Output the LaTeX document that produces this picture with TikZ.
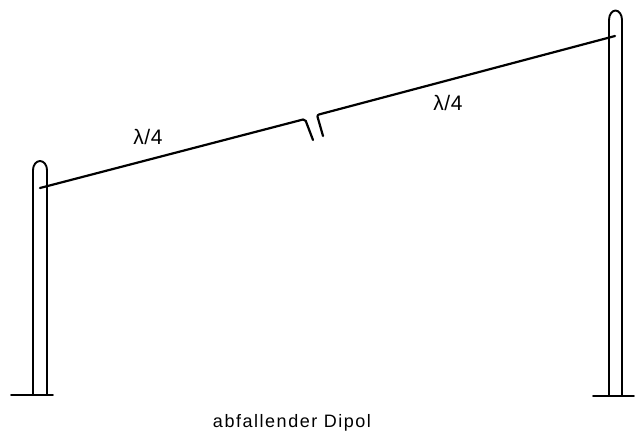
\documentclass[tikz,border=0pt]{standalone}
\usepackage{fontspec}
\setmainfont{Liberation Sans}
\tikzset{
  mast/.style={line width=1.9pt,line cap=round},
  wire/.style={line width=2.2pt,line cap=round,line join=round,rounded corners=2pt},
  lbl/.style={inner sep=0pt,anchor=base,text=black},
  lamlbl/.style={lbl,font=\fontsize{21}{24}\selectfont\addfontfeature{LetterSpace=3}},
  titlelbl/.style={lbl,font=\fontsize{18}{20}\selectfont\addfontfeature{LetterSpace=8.5}}
}
\begin{document}
\begin{tikzpicture}[x=1pt,y=-1pt]
\useasboundingbox (0,0) rectangle (639,431);
% named points
\coordinate (lmb) at (33,395); \coordinate (lmt) at (33,170);
\coordinate (lnb) at (47,395);
\coordinate (lg1) at (11,395); \coordinate (lg2) at (53,395);
\coordinate (rmb) at (609,396); \coordinate (rmt) at (609,20);
\coordinate (rnb) at (622,396);
\coordinate (rg1) at (593,396); \coordinate (rg2) at (634,396);
\coordinate (wl) at (40,188); \coordinate (cl) at (305,119); \coordinate (fl) at (313,140);
\coordinate (wr) at (615,36); \coordinate (cr) at (317,115); \coordinate (fr) at (323,136);
% left mast
\draw[mast] (lmb) -- (lmt) arc[start angle=180,end angle=360,x radius=7,y radius=9] -- (lnb);
\draw[mast] (lg1) -- (lg2);
% right mast
\draw[mast] (rmb) -- (rmt) arc[start angle=180,end angle=360,x radius=6.5,y radius=9.5] -- (rnb);
\draw[mast] (rg1) -- (rg2);
% dipole
\draw[wire] (wl) -- (cl) -- (fl);
\draw[wire] (wr) -- (cr) -- (fr);
% labels
\node[lamlbl] (a) at (148,144) {λ/4};
\node[lamlbl] (b) at (448,110.5) {λ/4};
\node[titlelbl] (c) at (292,427) {abfallender Dipol};
\end{tikzpicture}
\end{document}
